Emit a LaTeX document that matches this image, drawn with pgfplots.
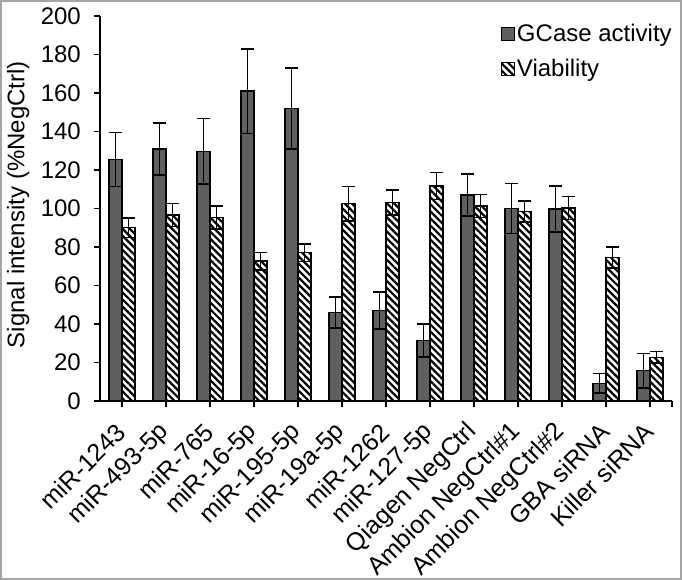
\documentclass[border=0pt]{standalone}
\usepackage{fontspec}
\setmainfont{Liberation Sans}
\usepackage{pgfplots}
\usepackage{pgfplotstable}
\pgfplotsset{compat=1.18}
\usetikzlibrary{patterns.meta}
\definecolor{barfill}{RGB}{95,95,95}
\definecolor{framegray}{RGB}{165,165,165}
\pgfplotsset{sqlegend/.style={legend image code/.code={\draw[##1, line width=1.4bp] (0bp,-7bp) rectangle (13bp,6bp);}}}
\pgfplotstableread{
x g ge v ve
0 125.5 14 90 5
1 131 13.5 96.6 6
2 129.7 17 95.4 6
3 161 22 72.7 4.5
4 152 21 77 4.5
5 46 8 102.5 9
6 47 9.5 103.2 6.5
7 31.5 8.5 111.7 7
8 107 11 101.3 6
9 100 13 98.5 5.5
10 99.7 12 100.3 6
11 9.2 5 74.5 5.5
12 15.7 9 22.7 3
}\data
\begin{document}
\begin{tikzpicture}[x=1bp,y=1bp]
\useasboundingbox (-100,-179) rectangle (582,401);
\draw[framegray, line width=2bp] (-99,-178) rectangle (581,400);
\begin{axis}[
  at={(0,0)}, anchor=south west,
  scale only axis, width=572bp, height=385bp,
  xmin=-0.5, xmax=12.5, ymin=0, ymax=200,
  ytick={0,20,...,200},
  xtick={0,...,12},
  xticklabels={miR-1243,miR-493-5p,miR-765,miR-16-5p,miR-195-5p,miR-19a-5p,miR-1262,miR-127-5p,Qiagen NegCtrl,Ambion NegCtrl\#1,Ambion NegCtrl\#2,GBA siRNA,Killer siRNA},
  extra x ticks={12.5}, extra x tick labels={},
  axis x line*=bottom, axis y line*=left,
  axis line style={line width=1.5bp, black},
  tick align=outside, major tick length=6bp,
  tick style={line width=1.5bp, black},
  ybar=0pt, bar width=13bp,
  font=\fontsize{24bp}{28bp}\selectfont,
  /pgf/number format/assume math mode=true,
  xticklabel style={rotate=45, anchor=east, inner sep=1bp, font=\fontsize{25bp}{29bp}\selectfont},
  xticklabel shift=20bp,
  yticklabel style={inner sep=0pt},
  yticklabel shift=13bp,
  ylabel={Signal intensity (\%NegCtrl)},
  ylabel style={at={(axis description cs:-0.143,0.51)}, anchor=center},
  legend style={at={(rel axis cs:0.70,0.985)}, anchor=north west, draw=none, fill=none, row sep=12bp, inner sep=0pt, font=\fontsize{24bp}{28bp}\selectfont},
  legend cell align=left,
]
\addplot[fill=barfill, draw=black, line width=1.4bp, sqlegend,
  error bars/.cd, y dir=both, y explicit,
  error bar style={line width=1.6bp, black},
  error mark options={rotate=90, mark size=6.5bp, line width=1.6bp, black}]
  table[x=x, y=g, y error=ge] {\data};
\addlegendentry{GCase activity}
\addplot[fill=white, draw=black, line width=1.4bp, sqlegend,
  postaction={pattern={Lines[angle=-45,distance=5bp,line width=2.2bp]}, pattern color=black},
  error bars/.cd, y dir=both, y explicit,
  error bar style={line width=1.6bp, black},
  error mark options={rotate=90, mark size=6.5bp, line width=1.6bp, black}]
  table[x=x, y=v, y error=ve] {\data};
\addlegendentry{Viability}
\end{axis}
\end{tikzpicture}
\end{document}
